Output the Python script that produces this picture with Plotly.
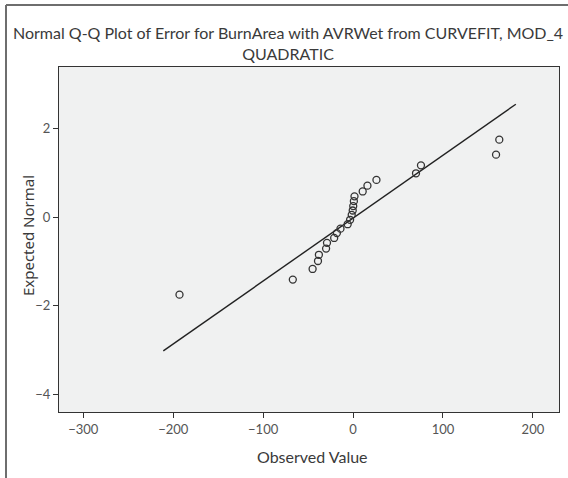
import plotly.graph_objects as go

observed = [-193, -67, -45, -39, -38, -30, -29, -21, -18, -14, -6, -3.3,
            -1.5, -0.4, 0.2, 0.9, 1.6, 10.7, 16, 26, 70, 75.5, 159, 162.6]
expected = [-1.75, -1.41, -1.17, -0.99, -0.85, -0.71, -0.58, -0.47, -0.36, -0.26, -0.16, -0.06,
            0.05, 0.15, 0.25, 0.36, 0.47, 0.58, 0.71, 0.84, 0.99, 1.17, 1.41, 1.75]

# Reference line endpoints
line_x = [-211, 181]
line_y = [-3.02, 2.55]

x_ticks = [-300, -200, -100, 0, 100, 200]
y_ticks = [-4, -2, 0, 2]

title_text = "Normal Q-Q Plot of Error for BurnArea with AVRWet from CURVEFIT, MOD_4<br>QUADRATIC"
x_title = "Observed Value"
y_title = "Expected Normal"

FONT = "Lato"

fig = go.Figure()
fig.add_trace(go.Scatter(
    x=line_x, y=line_y, mode="lines",
    line=dict(color="#222222", width=1.4), hoverinfo="skip", showlegend=False))
fig.add_trace(go.Scatter(
    x=observed, y=expected, mode="markers",
    marker=dict(symbol="circle-open", size=7, color="#333333", line=dict(width=1.3)),
    showlegend=False))

fig.update_layout(
    width=568, height=478,
    margin=dict(l=59, r=9, t=67, b=66),
    paper_bgcolor="white",
    plot_bgcolor="#f0f1f1",
    font=dict(family=FONT, color="#444444"),
    showlegend=False,
)
fig.update_xaxes(range=[-327, 229], tickvals=x_ticks, ticks="outside", ticklen=5,
                 tickcolor="#333333", tickwidth=1, showgrid=False, zeroline=False,
                 showline=True, linecolor="#333333", linewidth=1, mirror=True,
                 tickfont=dict(family=FONT, size=13, color="#555555"))
fig.update_yaxes(range=[-4.40, 3.39], tickvals=y_ticks, ticks="outside", ticklen=5,
                 tickcolor="#333333", tickwidth=1, showgrid=False, zeroline=False,
                 showline=True, linecolor="#333333", linewidth=1, mirror=True,
                 tickfont=dict(family=FONT, size=13, color="#555555"))

# chart title (two lines)
fig.add_annotation(text=title_text, xref="paper", yref="paper", x=0.458, y=1.071,
                   xanchor="center", yanchor="middle", showarrow=False,
                   font=dict(family=FONT, size=16, color="#3a3a3a"))
fig.add_annotation(text=x_title, xref="paper", yref="paper", x=0.506, y=-0.13,
                   xanchor="center", yanchor="middle", showarrow=False,
                   font=dict(family=FONT, size=16, color="#3a3a3a"))
fig.add_annotation(text=y_title, xref="paper", yref="paper", x=-0.062, y=0.51,
                   xanchor="center", yanchor="middle", showarrow=False, textangle=-90,
                   font=dict(family="Noto Sans", size=15, color="#3a3a3a"))

# outer frame (left and top edges)
fig.add_shape(type="line", xref="paper", yref="paper", x0=-0.106, x1=1.02, y0=1.18, y1=1.18,
              line=dict(color="#6e6e6e", width=2))
fig.add_shape(type="line", xref="paper", yref="paper", x0=-0.106, x1=-0.106, y0=1.18, y1=-0.2,
              line=dict(color="#6e6e6e", width=2))

fig.write_html("out.html", config={"displayModeBar": False},
               post_script="document.body.style.margin='0px';")
